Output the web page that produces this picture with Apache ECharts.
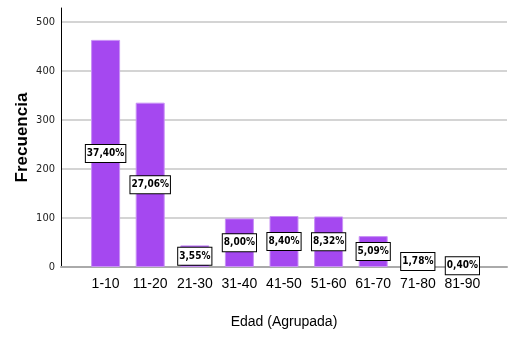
<!DOCTYPE html>
<html><head><meta charset="utf-8">
<script src="https://cdn.jsdelivr.net/npm/echarts@6/dist/echarts.min.js"></script>
<style>html,body{margin:0;padding:0;background:#fff}#c{width:517px;height:338px}</style>
</head><body><div id="c"></div>
<script>
const categories = ['1-10','11-20','21-30','31-40','41-50','51-60','61-70','71-80','81-90'];
const counts = [463, 335, 44, 99, 104, 103, 63, 22, 5];
const percentLabels = ['37,40%','27,06%','3,55%','8,00%','8,40%','8,32%','5,09%','1,78%','0,40%'];
const yTicks = [0, 100, 200, 300, 400, 500];

const axisCats = [''].concat(categories, ['']);
const barData = [null].concat(counts.map((v, i) => ({value: v, pct: percentLabels[i]})), [null]);
const narrow = "'Liberation Sans Narrow', 'DejaVu Sans Condensed', 'Roboto', sans-serif";

const chart = echarts.init(document.getElementById('c'));
chart.setOption({
  animation: false,
  grid: {left: 61, right: 10, top: 8, bottom: 71},
  xAxis: {
    type: 'category', data: axisCats, boundaryGap: false,
    name: 'Edad (Agrupada)', nameLocation: 'middle', nameGap: 48,
    nameTextStyle: {fontFamily: 'Liberation Sans', fontSize: 14, color: '#000'},
    axisLine: {lineStyle: {color: '#aaa', width: 2}},
    axisTick: {show: false},
    axisLabel: {interval: 0, fontFamily: 'Liberation Sans', fontSize: 14, color: '#000', margin: 10},
    splitLine: {show: false}
  },
  yAxis: {
    type: 'value', min: 0, max: 528, interval: 100,
    name: 'Frecuencia', nameLocation: 'middle', nameGap: 30, nameRotate: 90, nameMoveOverlap: false,
    nameTextStyle: {fontFamily: 'Liberation Sans', fontSize: 17, fontWeight: 'bold', color: '#000'},
    axisLine: {show: true, lineStyle: {color: '#000', width: 1}},
    axisTick: {show: false},
    axisLabel: {
      fontFamily: narrow, fontSize: 11, color: '#222', margin: 6,
      formatter: v => (yTicks.indexOf(v) >= 0 ? String(v) : '')
    },
    splitLine: {show: true, lineStyle: {color: ['#d4d4d4','#d4d4d4','#d4d4d4','#d4d4d4','#d4d4d4','#d4d4d4','rgba(0,0,0,0)'], width: 2}}
  },
  series: [{
    type: 'bar', data: barData, barWidth: 29,
    itemStyle: {color: '#a548f0', borderColor: '#c890f5', borderWidth: 1},
    label: {
      show: true, position: 'inside',
      formatter: p => p.data ? p.data.pct : '',
      fontFamily: narrow, fontWeight: 'bold', fontSize: 10, color: '#000',
      backgroundColor: '#fff', borderColor: '#000', borderWidth: 1, padding: [4, 1, 3, 1]
    }
  }]
});
</script></body></html>
